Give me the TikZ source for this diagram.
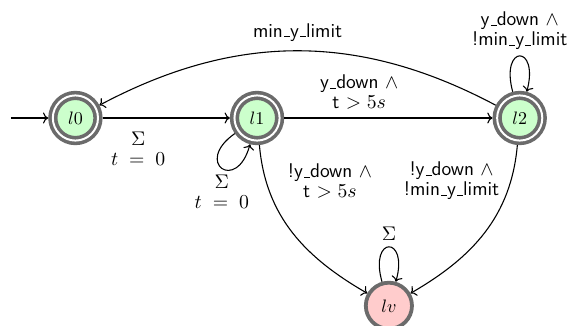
\documentclass[tikz,border=0pt]{standalone}
\usepackage{amsmath}
\usetikzlibrary{arrows.meta,positioning}
\newcommand{\usc}{\leavevmode\kern.06em\vbox{\hrule width.3em}}

\begin{document}
\begin{tikzpicture}[
    on grid,
    loc/.style={circle, draw=black!58, line width=2pt, double=white, double distance=1.1pt, fill=green!20, minimum size=0.88cm, inner sep=0pt, outer sep=2.55pt},
    badloc/.style={circle, draw=black!58, line width=2.1pt, fill=red!20, minimum size=0.9cm, inner sep=0pt},
    lab/.style={font=\fontsize{11}{11}\selectfont\sffamily, align=center},
    arrow/.style={->, semithick}
  ]
    \useasboundingbox (-1.47,-4.05) rectangle (9.64,2.30);

    \node[loc] (l0) {$l0$};
    \node[loc, right=3.54cm of l0] (l1) {$l1$};
    \node[loc, right=5.12cm of l1] (l2) {$l2$};
    \node[badloc, below right=3.66cm and 2.57cm of l1] (lv) {$lv$};
    \coordinate[left=1.26cm of l0] (start);

    \draw[arrow] (start) -- (l0);
    \draw[arrow] (l0) -- node[lab, below=0.14cm, pos=0.28] {$\Sigma$\\$t \;=\; 0$} (l1);
    \draw[arrow] (l1) to[out=215, in=255, looseness=7] node[lab, below] {$\Sigma$\\$t \;=\; 0$} (l1);
    \draw[arrow] (l1) -- node[lab, above=0.04cm, pos=0.36] {y\usc down $\wedge$\\t $> 5s$} (l2);
    \draw[arrow] (l2) to[bend right=28] node[lab, above=0.06cm] {min\usc y\usc limit} (l0);
    \draw[arrow] (l2) to[out=105, in=75, looseness=9] node[lab, above] {y\usc down $\wedge$\\!min\usc y\usc limit} (l2);
    \draw[arrow] (l1) to[out=-85, in=150] node[lab, right=0.3cm, pos=0.18] {!y\usc down $\wedge$\\t $> 5s$} (lv);
    \draw[arrow] (l2) to[out=-95, in=30] node[lab, left=0.1cm, pos=0.18] {!y\usc down $\wedge$\\!min\usc y\usc limit} (lv);
    \draw[arrow] (lv) to[out=106, in=74, looseness=9] node[lab, above] {$\Sigma$} (lv);
  \end{tikzpicture}
\end{document}
